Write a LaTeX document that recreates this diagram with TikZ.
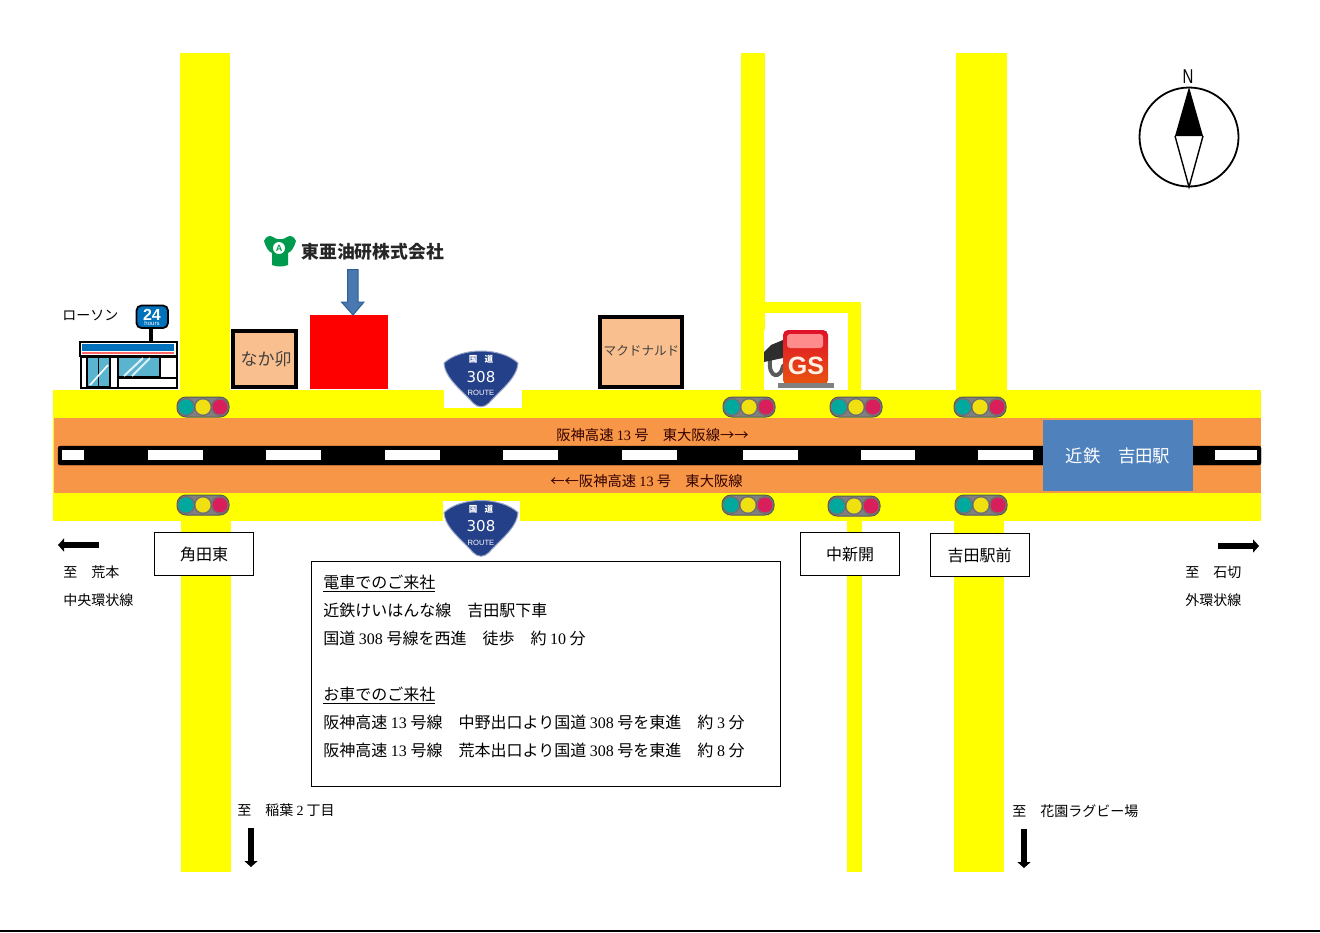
\documentclass[tikz,border=0pt]{standalone}
\usepackage{fontspec}
\setmainfont{Liberation Serif}
\newfontfamily\jp{Noto Sans CJK JP}
\newfontfamily\plain{Liberation Sans}
\newfontfamily\wide{DejaVu Sans}
\usepackage{tikz}
\usetikzlibrary{arrows.meta}
\usetikzlibrary{calc}
\usetikzlibrary{positioning}

\newcommand{\lat}[1]{{\rmfamily #1}}
\newcommand{\headline}[1]{\underline{\smash{#1}}}

\definecolor{roadyellow}{RGB}{255,255,0}
\definecolor{roadorange}{RGB}{247,150,70}
\definecolor{shopfill}{RGB}{250,191,143}
\definecolor{stationblue}{RGB}{79,129,189}
\definecolor{shieldblue}{RGB}{36,64,136}
\definecolor{lawsonblue}{RGB}{0,114,188}
\definecolor{lawsonglass}{RGB}{90,180,208}
\definecolor{logogreen}{RGB}{0,154,78}
\definecolor{arrowblue}{RGB}{74,120,176}
\definecolor{arrowedge}{RGB}{47,95,150}
\definecolor{pumptop}{RGB}{224,16,42}
\definecolor{pumpbottom}{RGB}{232,85,15}

\tikzset{
  road/.style={fill=roadyellow,draw=none},
  jplabel/.style={font=\jp\fontsize{7}{9}\selectfont,inner sep=0pt,text=black},
  lanelabel/.style={font=\jp\fontsize{7.15}{9}\selectfont,inner sep=0pt,text=black!80!red},
  junction/.style={draw,fill=white,line width=0.5pt,minimum width=49.5pt,minimum height=21.5pt,inner sep=0pt,font=\jp\fontsize{8}{10}\selectfont},
  shopbox/.style={draw=black,fill=shopfill,line width=2pt},
  lane/.style={fill=white,draw=none},
  dirarrow/.style={line width=2.8pt,-{Triangle[length=3pt,width=6.5pt]}},
  signal/.pic={
    \draw [fill=gray,draw=black!65,line width=0.5pt,rounded corners=4.5pt] (-26,-10) rectangle (26,10);
    \draw [fill=black!5!gray,draw=black!60,line width=0.3pt] (-17,0) circle (8.5) (0,0) circle (8.5) (17,0) circle (8.5);
    \fill [fill={rgb,255:red,0;green,169;blue,157}] (-17,0) circle (7.5);
    \fill [fill={rgb,255:red,240;green,224;blue,15}] (0,0) circle (7.5);
    \fill [fill={rgb,255:red,216;green,30;blue,91}] (17,0) circle (7.5);
  },
  shield/.pic={
    \draw [fill=shieldblue,draw=shieldblue!45,line width=0.5pt]
      (-37,12) .. controls (-20,-4) and (20,-4) .. (37,12)
      .. controls (36,28) and (18,40) .. (8,52)
      .. controls (3,57) and (-3,57) .. (-8,52)
      .. controls (-18,40) and (-36,28) .. cycle;
    \node [text=white,inner sep=0pt,font=\jp\bfseries\fontsize{4.3}{5}\selectfont] (-kokudo) at (0,8.5) {国\hspace{3.5pt}道};
    \node [text=white,inner sep=0pt,font=\wide\fontsize{7.5}{9}\selectfont] (-num) at (0,26) {308};
    \node [text=white,inner sep=0pt,font=\plain\fontsize{3.8}{5}\selectfont] (-route) at (0,42) {ROUTE};
  }
}

\begin{document}
\begin{tikzpicture}[x=0.5pt,y=-0.5pt]

  \useasboundingbox (0,0) rectangle (1320,932);
  \fill [white] (0,0) rectangle (1320,932);
  \draw [line width=1pt] (0,931) -- (1320,931);

  \fill [road] (180,53) rectangle (230,392);
  \fill [road] (741,53) rectangle (765,392);
  \fill [road] (765,302) rectangle (861,313);
  \fill [road] (848,302) rectangle (861,392);
  \fill [road] (956,53) rectangle (1007,392);
  \fill [road] (181,519) rectangle (231,872);
  \fill [road] (847,519) rectangle (862,872);
  \fill [road] (954,519) rectangle (1004,872);
  \fill [road] (53,390) rectangle (1261,521);
  \fill [roadorange] (54,418) rectangle (1261,493);

  \draw [line width=0.1pt,fill=black,draw=black,rounded corners=1pt] (58,446) rectangle (1261,465);
  \foreach \xa/\xb in {62/84,148/203,266/321,385/440,503/558,622/677,743/798,861/915,978/1033,1215/1257}
    \fill [lane] (\xa,450) rectangle (\xb,460);

  \fill [white] (444,390) rectangle (522,408);
  \fill [white] (443,501) rectangle (520,521);
  \pic (shieldtop) at (481,351) {shield};
  \pic (shieldbottom) at (481,500.5) {shield};

  \foreach \nm/\xc/\yc in {a/203/407,b/749/407,c/856/407,d/980/407,e/203/505,f/748/505,g/854/506,h/981/505}
    \pic (signal\nm) at (\xc,\yc) {signal};

  \node [fill=stationblue,text=white,minimum width=75pt,minimum height=35.5pt,inner sep=0pt,font=\jp\fontsize{8.7}{11}\selectfont] (station) at (1118,455.5) {近鉄　吉田駅};
  \node [lanelabel] (laneup) at (652.5,435) {阪神高速 \lat{13} 号　東大阪線→→};
  \node [lanelabel] (lanedown) at (646.5,481) {←←阪神高速 \lat{13} 号　東大阪線};

  \draw [shopbox] (233,331) rectangle (296,387);
  \node [font=\jp\fontsize{8.5}{10}\selectfont,inner sep=0pt,text=black!75] (nakau) at (266,359) {なか卯};
  \fill [red] (310,315) rectangle (388,389);
  \draw [shopbox] (600,317) rectangle (682,387);
  \node [font=\jp\fontsize{6.3}{8}\selectfont,inner sep=0pt,text=black!75] (mcd) at (641.5,351) {マクドナルド};

  \draw [fill=arrowblue,draw=arrowedge,line width=0.5pt] (347.5,269.5) -- (358,269.5) -- (358,302) -- (364,302) -- (353,315) -- (341.5,302) -- (347.5,302) -- cycle;
  \draw [fill=logogreen,draw=none]
    (264,241) .. controls (266,236) and (270,235) .. (273,237)
    .. controls (276,240) and (284,240) .. (287,237)
    .. controls (290,235) and (294,236) .. (296,241)
    .. controls (294,248) and (291,252) .. (288,253)
    -- (288,265) .. controls (283,267) and (277,267) .. (272,265)
    -- (272,253) .. controls (269,252) and (266,248) .. cycle;
  \node [circle,fill=white,inner sep=0pt,minimum size=6pt,text=logogreen,font=\plain\bfseries\fontsize{4.5}{5}\selectfont] (logomark) at (279,248) {A};
  \node [anchor=west,inner sep=0pt,font=\jp\bfseries\fontsize{8.9}{11}\selectfont,text=black!85] (company) at (301,252) {東亜油研株式会社};

  \fill [white] (764,330) rectangle (848,390);
  \draw [line width=2pt,draw=black!65,line cap=round] (770,360) .. controls (768,379) and (781,379) .. (783,366);
  \fill [black!82] (783,340) -- (771,345) -- (764,352) -- (764,362) -- (783,358) -- cycle;
  \shade [top color=pumptop,bottom color=pumpbottom,rounded corners=2.5pt] (783,330) rectangle (828,385);
  \fill [red!45!white,rounded corners=1.5pt] (787,334) rectangle (823,348);
  \fill [black!50] (778,383) rectangle (834,388);
  \node [text=white!90!orange,font=\plain\bfseries\fontsize{12.5}{14}\selectfont,inner sep=0pt] (gs) at (806,366) {GS};

  \draw [fill=white,line width=1.2pt] (81,357) rectangle (177,388);
  \draw [fill=white,line width=1.2pt] (80,342) rectangle (177,356);
  \fill [lawsonblue] (82,344) rectangle (174,351);
  \fill [red!60!white] (82,352) rectangle (174,354);
  \draw [fill=lawsonglass,line width=0.8pt] (87,357) rectangle (110,387);
  \draw [line width=0.6pt] (98.5,357) -- (98.5,387);
  \draw [white,line width=0.8pt] (90,385) -- (108,365);
  \draw [fill=lawsonglass,line width=0.8pt] (118,357) rectangle (160,377);
  \draw [white!80!lawsonglass,line width=1pt] (124,376) -- (143,358) (132,376) -- (150,358);
  \draw [line width=0.8pt] (118,377) -- (118,388) (118,378) -- (177,378);
  \fill [black] (149,328) rectangle (153,341);
  \draw [fill=lawsonblue,draw=black,line width=0.9pt,rounded corners=2.5pt] (136.5,305.5) rectangle (168,328);
  \node [text=white,inner sep=0pt,font=\plain\bfseries\fontsize{8}{8}\selectfont] (hour) at (152,314.5) {24};
  \node [text=white,inner sep=0pt,font=\plain\fontsize{3}{4}\selectfont] (hours) at (152,323.5) {hours};
  \node [jplabel,anchor=west] (lawson) at (62,316) {ローソン};

  \node [junction] (kadota) at (204,554) {角田東};
  \node [junction] (nakashin) at (850,554) {中新開};
  \node [junction] (yoshida) at (979.5,555) {吉田駅前};

  \node [draw,line width=0.5pt,fill=white,minimum width=234.5pt,minimum height=112.5pt,inner sep=0pt,anchor=north west] (infobox) at (311,561) {};
  \node [anchor=north west,inner sep=0pt,align=left,font=\jp\fontsize{8}{14}\selectfont,text=black] (infotext) at (323,588) {%
    \headline{電車でのご来社}\\
    近鉄けいはんな線　吉田駅下車\\
    国道 \lat{308} 号線を西進　徒歩　約 \lat{10} 分\\
    \\
    \headline{お車でのご来社}\\
    阪神高速 \lat{13} 号線　中野出口より国道 \lat{308} 号を東進　約 \lat{3} 分\\
    阪神高速 \lat{13} 号線　荒本出口より国道 \lat{308} 号を東進　約 \lat{8} 分};

  \coordinate (westfrom) at (99,545);
  \coordinate (westto) at (58,545);
  \coordinate (eastfrom) at (1218,546);
  \coordinate (eastto) at (1259,546);
  \coordinate (southafrom) at (251,828);
  \coordinate (southato) at (251,867);
  \coordinate (southbfrom) at (1024,829);
  \coordinate (southbto) at (1024,868);
  \draw [dirarrow] (westfrom) -- (westto);
  \draw [dirarrow] (eastfrom) -- (eastto);
  \draw [dirarrow] (southafrom) -- (southato);
  \draw [dirarrow] (southbfrom) -- (southbto);

  \node [jplabel,anchor=west] (toaramoto) at (63,572) {至　荒本};
  \node [jplabel,anchor=west] (chuo) at (63,600) {中央環状線};
  \node [jplabel,anchor=west] (toishikiri) at (1185,572) {至　石切};
  \node [jplabel,anchor=west] (gaikan) at (1185,600) {外環状線};
  \node [jplabel,anchor=west] (toinaba) at (237,810) {至　稲葉 \lat{2} 丁目};
  \node [jplabel,anchor=west] (tohanazono) at (1012,811) {至　花園ラグビー場};

  \draw [line width=0.9pt] (1189,137) circle (49.5);
  \fill (1189,87) -- (1203,136) -- (1175,136) -- cycle;
  \draw [line width=0.7pt] (1175,136) -- (1189,187) -- (1203,136);
  \node [inner sep=0pt,font=\plain\fontsize{10}{11}\selectfont] (north) at (1188,77) {\scalebox{0.75}[1]{N}};

\end{tikzpicture}
\end{document}
